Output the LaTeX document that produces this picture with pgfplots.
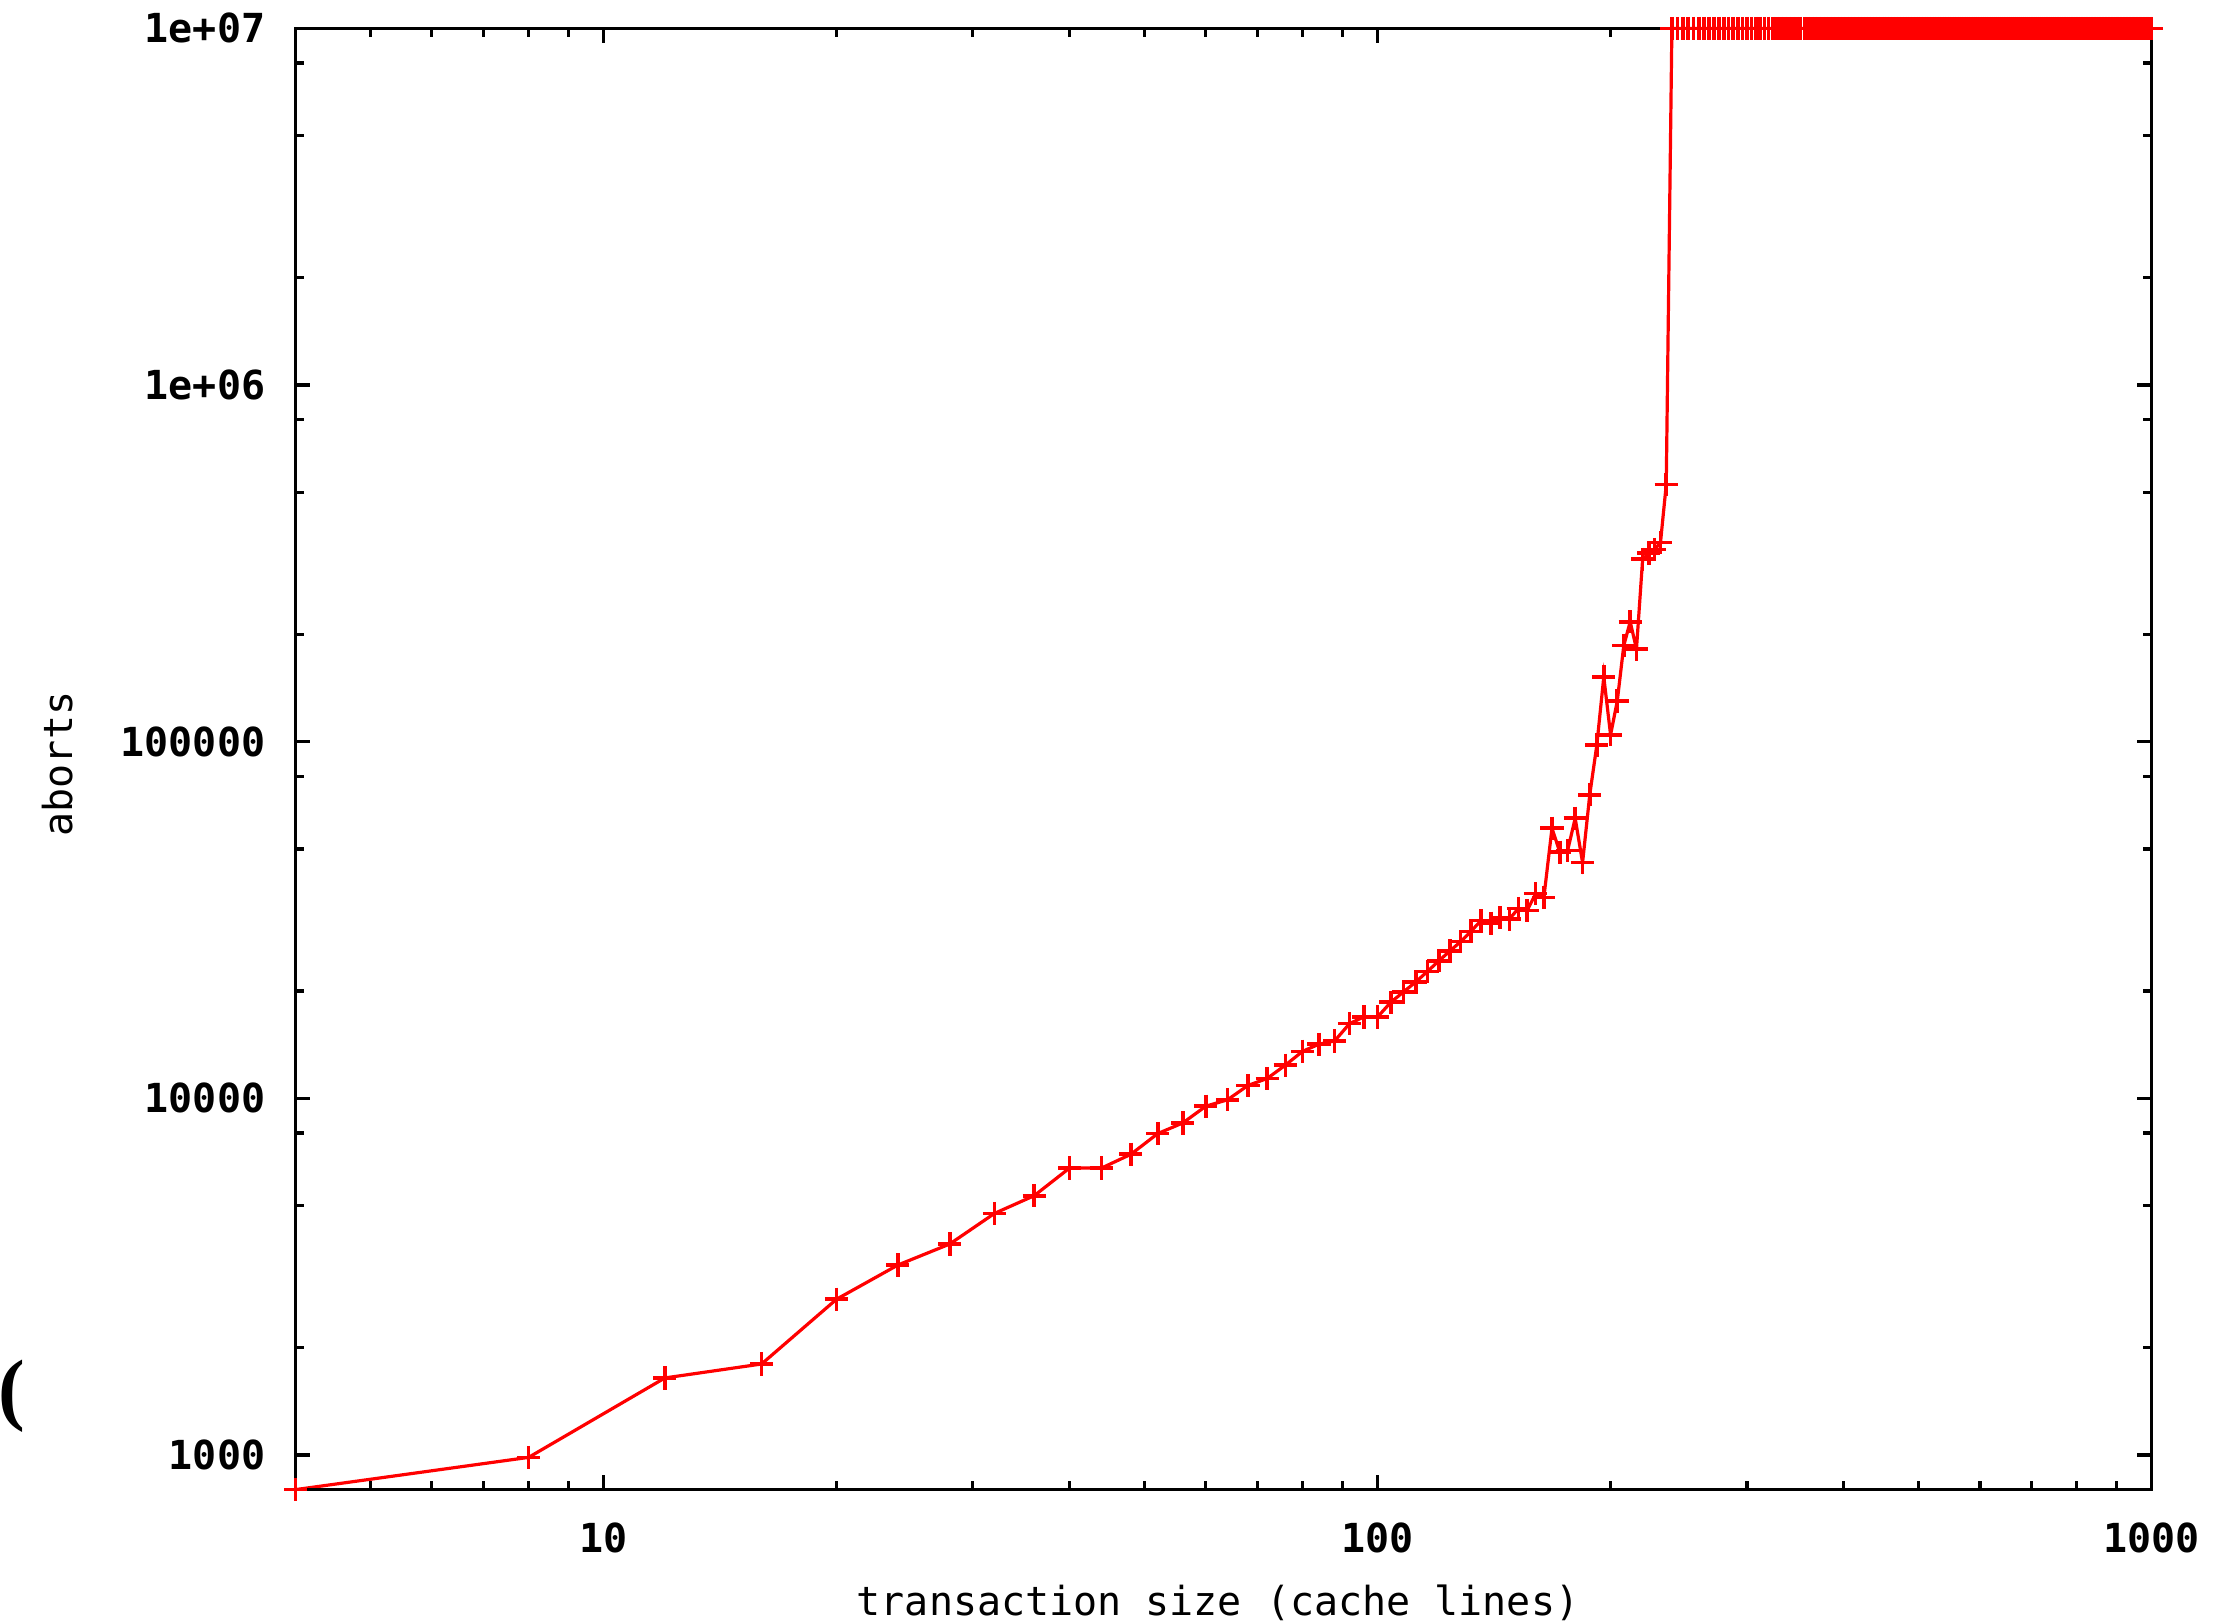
\documentclass[border=0pt]{standalone}
\usepackage{fontspec}
\setmainfont{DejaVu Sans Mono}
\newfontfamily\serifbold{Liberation Serif}
\usepackage{pgfplots}
\pgfplotsset{compat=1.18}

\begin{document}
\begin{tikzpicture}
\useasboundingbox (-73.9pt,-33.1pt) rectangle (480.6pt,372.4pt);
\begin{axis}[
    at={(0,0)}, anchor=south west,
    scale only axis, width=464pt, height=365.3pt,
    xmode=log, ymode=log,
    xmin=4, xmax=1000, ymin=800, ymax=1e7,
    xtick={10,100,1000}, xticklabels={10,100,1000},
    minor xtick={5,6,7,8,9,20,30,40,50,60,70,80,90,200,300,400,500,600,700,800,900},
    ytick={1000,10000,100000,1000000,10000000},
    yticklabels={1000,10000,100000,1e+06,1e+07},
    minor ytick={2000,5000,8000,20000,50000,80000,200000,500000,800000,2000000,5000000,8000000},
    axis line style={black, line width=0.8pt},
    every tick/.style={black, line width=0.8pt},
    major tick length=3.75pt, minor tick length=2.1pt,
    tick align=inside,
    ticklabel style={font=\bfseries},
    xticklabel style={anchor=center, yshift=-12pt},
    yticklabel style={anchor=east, inner sep=0pt, xshift=-7.4pt},
    clip=false, axis on top,
]
\addplot[red, line width=0.8pt, mark=+, mark size=2.9pt, mark options={solid, line width=0.9pt}] coordinates {
    (4,800) (8,985) (12,1645) (16,1800) (20,2735) (24,3410) (28,3905) (32,4760) (36,5335) (40,6380)
    (44,6380) (48,6970) (52,7970) (56,8530) (60,9510) (64,9910) (68,10870) (72,11370) (76,12390) (80,13550)
    (84,14190) (88,14490) (92,16210) (96,16920) (100,16920) (104,18600) (108,19880) (112,21200) (116,22700) (120,24300)
    (124,25900) (128,27500) (132,29400) (136,31500) (140,31000) (144,32100) (148,31800) (152,34100) (156,33600) (160,37500)
    (164,36600) (168,57200) (172,49000) (176,49500) (180,61000) (184,45800) (188,71000) (192,97900) (196,152000) (200,104500)
    (204,130000) (208,186000) (212,217000) (216,182000) (220,325000) (224,338000) (228,346000) (232,362000) (236,526000)
    (240,1e7) (244,1e7) (248,1e7) (252,1e7) (256,1e7) (260,1e7) (264,1e7) (268,1e7) (272,1e7) (276,1e7)
    (280,1e7) (284,1e7) (288,1e7) (292,1e7) (296,1e7) (300,1e7) (304,1e7) (308,1e7) (312,1e7) (316,1e7)
    (320,1e7) (324,1e7) (328,1e7) (332,1e7) (336,1e7) (340,1e7) (344,1e7) (348,1e7) (352,1e7) (356,1e7)
    (360,1e7) (364,1e7) (368,1e7) (372,1e7) (376,1e7) (380,1e7) (384,1e7) (388,1e7) (392,1e7) (396,1e7)
    (400,1e7) (404,1e7) (408,1e7) (412,1e7) (416,1e7) (420,1e7) (424,1e7) (428,1e7) (432,1e7) (436,1e7)
    (440,1e7) (444,1e7) (448,1e7) (452,1e7) (456,1e7) (460,1e7) (464,1e7) (468,1e7) (472,1e7) (476,1e7)
    (480,1e7) (484,1e7) (488,1e7) (492,1e7) (496,1e7) (500,1e7) (504,1e7) (508,1e7) (512,1e7) (516,1e7)
    (520,1e7) (524,1e7) (528,1e7) (532,1e7) (536,1e7) (540,1e7) (544,1e7) (548,1e7) (552,1e7) (556,1e7)
    (560,1e7) (564,1e7) (568,1e7) (572,1e7) (576,1e7) (580,1e7) (584,1e7) (588,1e7) (592,1e7) (596,1e7)
    (600,1e7) (604,1e7) (608,1e7) (612,1e7) (616,1e7) (620,1e7) (624,1e7) (628,1e7) (632,1e7) (636,1e7)
    (640,1e7) (644,1e7) (648,1e7) (652,1e7) (656,1e7) (660,1e7) (664,1e7) (668,1e7) (672,1e7) (676,1e7)
    (680,1e7) (684,1e7) (688,1e7) (692,1e7) (696,1e7) (700,1e7) (704,1e7) (708,1e7) (712,1e7) (716,1e7)
    (720,1e7) (724,1e7) (728,1e7) (732,1e7) (736,1e7) (740,1e7) (744,1e7) (748,1e7) (752,1e7) (756,1e7)
    (760,1e7) (764,1e7) (768,1e7) (772,1e7) (776,1e7) (780,1e7) (784,1e7) (788,1e7) (792,1e7) (796,1e7)
    (800,1e7) (804,1e7) (808,1e7) (812,1e7) (816,1e7) (820,1e7) (824,1e7) (828,1e7) (832,1e7) (836,1e7)
    (840,1e7) (844,1e7) (848,1e7) (852,1e7) (856,1e7) (860,1e7) (864,1e7) (868,1e7) (872,1e7) (876,1e7)
    (880,1e7) (884,1e7) (888,1e7) (892,1e7) (896,1e7) (900,1e7) (904,1e7) (908,1e7) (912,1e7) (916,1e7)
    (920,1e7) (924,1e7) (928,1e7) (932,1e7) (936,1e7) (940,1e7) (944,1e7) (948,1e7) (952,1e7) (956,1e7)
    (960,1e7) (964,1e7) (968,1e7) (972,1e7) (976,1e7) (980,1e7) (984,1e7) (988,1e7) (992,1e7) (996,1e7)
    (1000,1e7)
};
\end{axis}
% axis titles
\node[rotate=90, anchor=center] at (-59.4pt,181.4pt) {aborts};
\node[anchor=base] at (230.6pt,-31.35pt) {transaction size (cache lines)};
% cut-off glyph at the left edge of the original
\node[anchor=east, inner sep=0pt, font=\serifbold\bfseries\fontsize{20}{20}\selectfont] at (-67.4pt,23.4pt) {(};
\end{tikzpicture}
\end{document}
